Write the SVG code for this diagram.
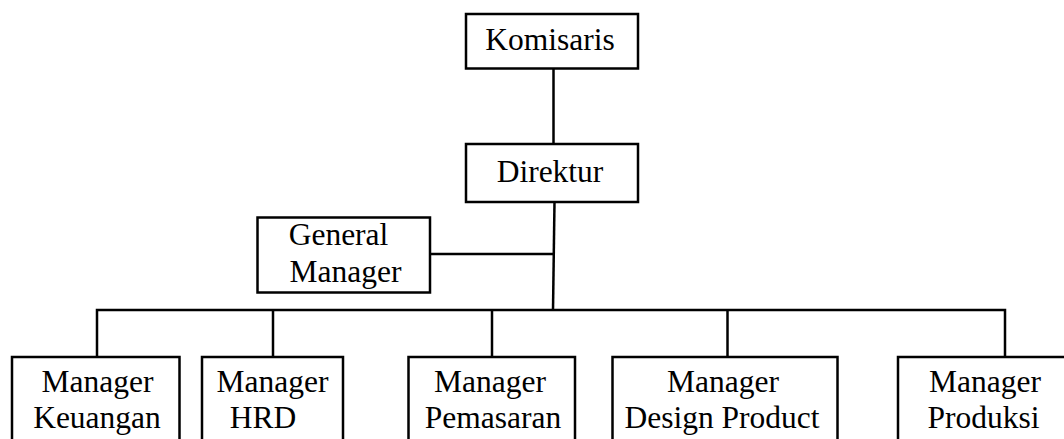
<svg xmlns="http://www.w3.org/2000/svg" width="1064" height="439" viewBox="0 0 1064 439">
<style>
.box{fill:#fff;stroke:#000;stroke-width:2.5}
.ln{fill:none;stroke:#000;stroke-width:2.5}
text{font-family:"Liberation Serif","Times New Roman",serif;font-size:31.5px;fill:#000;text-anchor:middle}
</style>
<rect width="1064" height="439" fill="#fff"/>
<g id="connectors">
<line class="ln" x1="553.5" y1="68" x2="553.5" y2="144"/>
<line class="ln" x1="554.5" y1="202" x2="553" y2="310"/>
<line class="ln" x1="430" y1="254" x2="553.5" y2="254"/>
<polyline class="ln" points="97,357 97,310 1005,310 1005,357"/>
<line class="ln" x1="273" y1="310" x2="273" y2="357"/>
<line class="ln" x1="492" y1="310" x2="492" y2="357"/>
<line class="ln" x1="727.5" y1="310" x2="727.5" y2="357"/>
</g>
<g id="komisaris"><rect class="box" x="466" y="14" width="172" height="54.5"/><text x="550" y="50">Komisaris</text></g>
<g id="direktur"><rect class="box" x="466" y="144" width="172" height="58"/><text x="550" y="181.5">Direktur</text></g>
<g id="general-manager"><rect class="box" x="257.5" y="217.5" width="172.5" height="75"/><text x="338.5" y="245">General</text><text x="345.5" y="281.5">Manager</text></g>
<g id="manager-keuangan"><rect class="box" x="12" y="357" width="167.5" height="100"/><text x="97.5" y="391.5">Manager</text><text x="97" y="428">Keuangan</text></g>
<g id="manager-hrd"><rect class="box" x="202" y="357" width="141" height="100"/><text x="272.5" y="391.5">Manager</text><text x="263" y="428">HRD</text></g>
<g id="manager-pemasaran"><rect class="box" x="408.5" y="357" width="166.5" height="100"/><text x="490" y="391.5">Manager</text><text x="493" y="428">Pemasaran</text></g>
<g id="manager-design-product"><rect class="box" x="612.5" y="357" width="225" height="100"/><text x="723" y="391.5">Manager</text><text x="722" y="428">Design Product</text></g>
<g id="manager-produksi"><rect class="box" x="898" y="357" width="180" height="100"/><text x="985" y="391.5">Manager</text><text x="983.5" y="428">Produksi</text></g>
</svg>
